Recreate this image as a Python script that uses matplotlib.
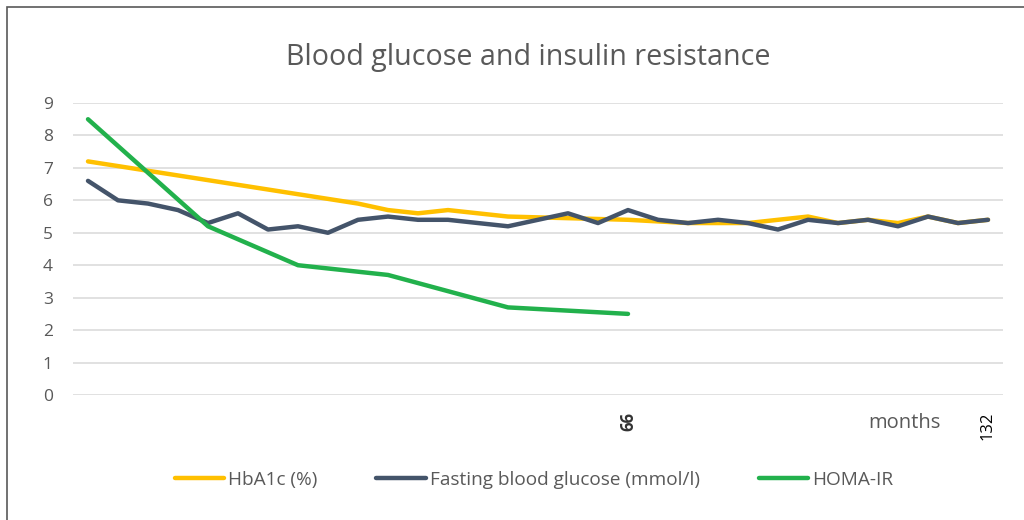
import numpy as np
import matplotlib.pyplot as plt
from matplotlib.patches import Rectangle

plt.rcParams['font.family'] = ['Open Sans', 'DejaVu Sans']

# indices of the monthly visits (categorical axis)
n_points = 31
x_labels = [''] * n_points
x_labels[18] = '66'
x_labels[30] = '132'

# Fasting blood glucose (mmol/l), every visit
fbg = [6.6, 6.0, 5.9, 5.7, 5.3, 5.6, 5.1, 5.2, 5.0, 5.4, 5.5,
       5.4, 5.4, 5.3, 5.2, 5.4, 5.6, 5.3, 5.7, 5.4, 5.3,
       5.4, 5.3, 5.1, 5.4, 5.3, 5.4, 5.2, 5.5, 5.3, 5.4]

# HbA1c (%), only where measured
hba1c_idx = [0, 9, 10, 11, 12, 14, 18, 20, 22, 24, 25, 26, 27, 28, 29, 30]
hba1c = [7.2, 5.9, 5.7, 5.6, 5.7, 5.5, 5.4, 5.3, 5.3, 5.5, 5.3, 5.4, 5.3, 5.5, 5.3, 5.4]

# HOMA-IR
homa_idx = [0, 4, 7, 10, 14, 18]
homa = [8.5, 5.2, 4.0, 3.7, 2.7, 2.5]

c_yellow = '#FFC000'
c_dark = '#44546A'
c_green = '#22B14C'
c_text = '#595959'

fig = plt.figure(figsize=(10.24, 5.2), dpi=100)
ax = fig.add_axes([73 / 1024, 125 / 520, 930 / 1024, 292 / 520])

ax.plot(hba1c_idx, hba1c, color=c_yellow, lw=3.2, solid_capstyle='round',
        solid_joinstyle='round', label='HbA1c (%)')
ax.plot(range(n_points), fbg, color=c_dark, lw=3.2, solid_capstyle='round',
        solid_joinstyle='round', label='Fasting blood glucose (mmol/l)')
ax.plot(homa_idx, homa, color=c_green, lw=3.2, solid_capstyle='round',
        solid_joinstyle='round', label='HOMA-IR')

ax.set_xlim(-0.5, n_points - 0.5)
ax.set_ylim(0, 9)
ax.set_yticks(range(10))
ax.yaxis.grid(True, color='#D9D9D9', lw=1.1)
ax.set_axisbelow(True)
for s in ax.spines.values():
    s.set_visible(False)
ax.tick_params(axis='y', length=0, pad=14.5, labelsize=12.5, labelcolor=c_text)

ax.set_xticks(range(n_points))
ax.set_xticklabels(x_labels, rotation=90, fontsize=12)
ax.tick_params(axis='x', length=0, pad=12)
ax.get_xticklabels()[18].set_fontweight('bold')
ax.get_xticklabels()[18].set_color('#333333')

ax.text(27.2, -0.86, 'months', fontsize=14.5, color=c_text, ha='center', va='center')

fig.text(528 / 1024, 1 - 57 / 520, 'Blood glucose and insulin resistance',
         fontsize=20.6, color=c_text, ha='center', va='center')

leg = fig.legend(loc='center', bbox_to_anchor=(534 / 1024, 1 - 480 / 520), ncol=3,
                 frameon=False, fontsize=13.7, handlelength=2.6, handletextpad=0.2,
                 columnspacing=3.1, borderpad=0.2)
for t in leg.get_texts():
    t.set_color(c_text)

fig.patches.append(Rectangle((7 / 1024, -0.01), 1.02, 1 - 7 / 520 + 0.01,
                             transform=fig.transFigure, fill=False,
                             edgecolor='#595959', lw=1.2))

fig.savefig('out.png', dpi=100)
